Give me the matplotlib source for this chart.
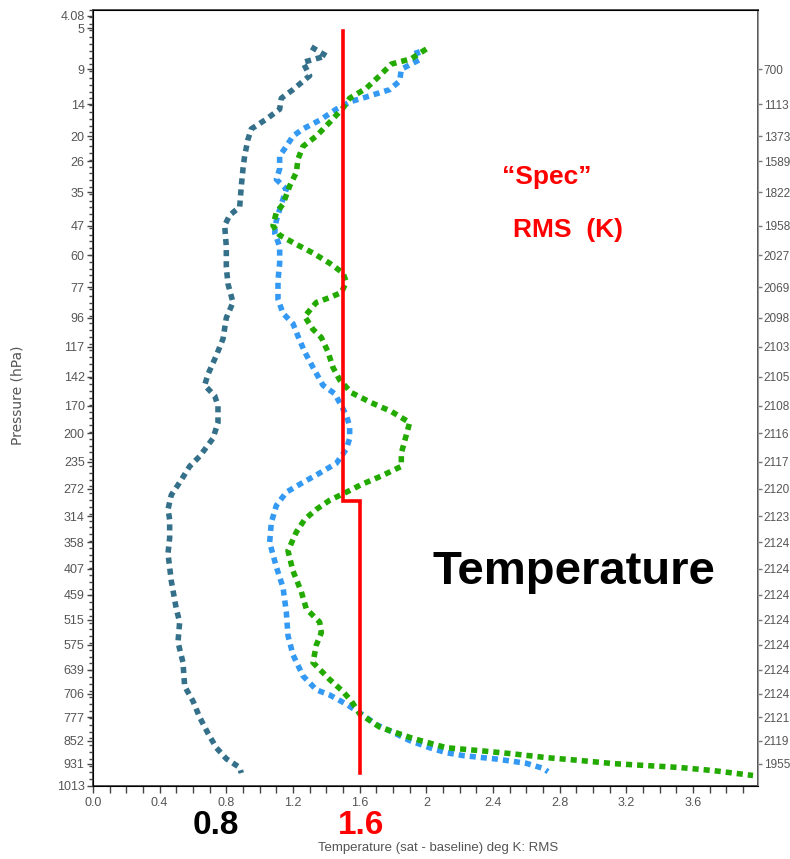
import numpy as np
import matplotlib.pyplot as plt
from matplotlib.ticker import FixedLocator, MultipleLocator

# pressure levels labelled on the left axis (hPa)
p_ticks = [4.08, 5, 9, 14, 20, 26, 35, 47, 60, 77, 96, 117, 142, 170, 200, 235,
           272, 314, 358, 407, 459, 515, 575, 639, 706, 777, 852, 931, 1013]
# labels of the right axis, level 9 hPa down to 931 hPa
right_labels = [700, 1113, 1373, 1589, 1822, 1958, 2027, 2069, 2098, 2103, 2105,
                2108, 2116, 2117, 2120, 2123, 2124, 2124, 2124, 2124, 2124, 2124,
                2124, 2121, 2119, 1955]

# dark curve
dark_p = [6.6, 7.5, 8.2, 9.8, 11.7, 13, 14.8, 16.6, 18.5, 20.7, 24.6, 28, 33, 40, 43,
          47, 56, 66, 75, 86, 96, 111, 124, 140, 150, 160, 170, 188, 206, 228, 241,
          263, 281, 303, 319, 350, 378, 431, 490, 520, 568, 620, 685, 728, 777, 828,
          876, 914, 945, 965]
dark_rms = [1.31, 1.40, 1.26, 1.30, 1.20, 1.13, 1.12, 1.04, 0.95, 0.93, 0.91, 0.90,
            0.89, 0.88, 0.82, 0.79, 0.80, 0.80, 0.81, 0.84, 0.80, 0.78, 0.74, 0.69,
            0.67, 0.73, 0.75, 0.75, 0.72, 0.64, 0.58, 0.52, 0.47, 0.45, 0.46, 0.46,
            0.45, 0.47, 0.50, 0.52, 0.51, 0.54, 0.55, 0.60, 0.64, 0.69, 0.74, 0.80,
            0.88, 0.89]

# blue curve
blue_p = [6.9, 7.9, 9, 10.5, 11.7, 12.8, 13.5, 14.8, 16.8, 18.5, 20, 22.3, 24.6, 28,
          31, 34, 39, 45, 50, 56, 64, 73, 84, 93, 100, 109, 121, 134, 150, 158, 170,
          180, 192, 206, 219, 237, 250, 263, 277, 297, 324, 358, 403, 444, 497, 552,
          600, 656, 695, 710, 737, 770, 800, 825, 852, 876, 893, 903, 915, 930, 948,
          960]
blue_rms = [1.94, 1.96, 1.85, 1.84, 1.78, 1.64, 1.55, 1.46, 1.36, 1.26, 1.20, 1.16,
            1.12, 1.12, 1.10, 1.16, 1.13, 1.10, 1.09, 1.12, 1.12, 1.11, 1.11, 1.14,
            1.20, 1.23, 1.27, 1.32, 1.38, 1.45, 1.49, 1.52, 1.54, 1.54, 1.52, 1.46,
            1.36, 1.26, 1.16, 1.10, 1.07, 1.06, 1.10, 1.14, 1.16, 1.17, 1.20, 1.26,
            1.34, 1.42, 1.52, 1.62, 1.70, 1.80, 1.90, 2.02, 2.12, 2.22, 2.42, 2.60,
            2.70, 2.73]

# green curve
green_p = [6.8, 7.8, 8.4, 9.8, 11.5, 13, 14.6, 17.2, 20, 22.3, 25.4, 29, 33, 39, 42,
           47, 51, 55, 59, 64, 69, 74, 80, 83, 86, 95, 104, 110, 121, 134, 145, 157,
           167, 176, 188, 202, 224, 241, 254, 266, 277, 289, 303, 319, 340, 373, 411,
           453, 490, 520, 545, 575, 620, 666, 700, 728, 766, 808, 845, 876, 886, 897,
           910, 920, 931, 938, 945, 956, 974]
green_rms = [2.00, 1.91, 1.79, 1.72, 1.64, 1.54, 1.50, 1.42, 1.34, 1.26, 1.23, 1.22,
             1.18, 1.14, 1.10, 1.08, 1.12, 1.22, 1.32, 1.42, 1.50, 1.52, 1.49, 1.42,
             1.34, 1.27, 1.32, 1.37, 1.41, 1.44, 1.48, 1.55, 1.67, 1.79, 1.90, 1.88,
             1.85, 1.85, 1.73, 1.61, 1.52, 1.42, 1.34, 1.27, 1.22, 1.17, 1.20, 1.25,
             1.28, 1.36, 1.37, 1.34, 1.32, 1.42, 1.50, 1.55, 1.60, 1.72, 1.92, 2.12,
             2.32, 2.52, 2.72, 2.92, 3.12, 3.32, 3.52, 3.72, 3.96]

# spec line (K)
spec_p = [5.2, 290, 290, 965]
spec_rms = [1.5, 1.5, 1.6, 1.6]

sans = ['Liberation Sans', 'DejaVu Sans']
gray = '#555555'


def fwd(p):
    return np.power(np.clip(p, 1e-9, None), 0.27)


def inv(v):
    return np.power(np.clip(v, 1e-9, None), 1 / 0.27)


fig = plt.figure(figsize=(7.9, 8.59), dpi=100)
ax = fig.add_axes([0.1177, 0.085, 0.8418, 0.9034])

dash = (0, (1.1, 0.9))
ax.plot(dark_rms, dark_p, color='#35708a', lw=4.0, linestyle=dash)
ax.plot(blue_rms, blue_p, color='#3399f3', lw=4.0, linestyle=dash)
ax.plot(green_rms, green_p, color='#22aa00', lw=4.0, linestyle=dash)
ax.plot(spec_rms, spec_p, color='red', lw=2.6, solid_joinstyle='miter')

ax.set_yscale('function', functions=(fwd, inv))
ax.set_ylim(1013, 3.7)
ax.set_xlim(0, 3.99)

ax.yaxis.set_major_locator(FixedLocator(p_ticks))
ax.set_yticklabels([f'{p:g}' for p in p_ticks])
minor_levels = inv(np.linspace(fwd(3.7), fwd(1013), 115))
ax.yaxis.set_minor_locator(FixedLocator(minor_levels))
ax.tick_params(axis='y', which='major', length=4, width=1, color='#444444', pad=2)
ax.tick_params(axis='y', which='minor', length=3, width=1, color='#444444')

ax.xaxis.set_minor_locator(MultipleLocator(0.1))
xt = np.arange(0, 3.61, 0.4)
ax.set_xticks(xt)
ax.set_xticklabels(['0.0' if v == 0 else f'{v:g}' for v in xt])
ax.tick_params(axis='x', which='both', length=5, width=1, color='#444444', pad=3)

for lab in ax.get_xticklabels() + ax.get_yticklabels():
    lab.set_family(sans)
    lab.set_fontsize(9)
    lab.set_color(gray)

for s in ax.spines.values():
    s.set_color('#444444')
    s.set_linewidth(1.3)

ax2 = ax.twinx()
ax2.set_yscale('function', functions=(fwd, inv))
ax2.set_ylim(1013, 3.7)
ax2.yaxis.set_major_locator(FixedLocator(p_ticks[2:-1]))
ax2.set_yticklabels([str(v) for v in right_labels])
ax2.yaxis.set_minor_locator(FixedLocator([]))
ax2.tick_params(axis='y', length=3, width=1, color='#777777', pad=1)
for lab in ax2.get_yticklabels():
    lab.set_family(sans)
    lab.set_fontsize(8.5)
    lab.set_color(gray)
ax2.spines['right'].set_color('#999999')

fig.text(438 / 790, 1 - 848 / 859, 'Temperature (sat - baseline) deg K: RMS',
         ha='center', va='center', fontsize=9.5, color=gray, family=sans)
fig.text(18 / 790, 1 - 395 / 859, 'Pressure (hPa)', rotation=90,
         ha='center', va='center', fontsize=10, color=gray)

fig.text(547 / 790, 1 - 177 / 859, '\u201cSpec\u201d', ha='center', va='center',
         fontsize=19, fontweight='bold', color='red', family=sans)
fig.text(568 / 790, 1 - 230 / 859, 'RMS  (K)', ha='center', va='center',
         fontsize=19, fontweight='bold', color='red', family=sans)
fig.text(574 / 790, 1 - 572 / 859, 'Temperature', ha='center', va='center',
         fontsize=34, fontweight='bold', color='black', family=sans)
fig.text(216 / 790, 1 - 826 / 859, '0.8', ha='center', va='center',
         fontsize=24, fontweight='bold', color='black', family=sans)
fig.text(361 / 790, 1 - 826 / 859, '1.6', ha='center', va='center',
         fontsize=24, fontweight='bold', color='red', family=sans)

fig.savefig('out.png', dpi=100)
